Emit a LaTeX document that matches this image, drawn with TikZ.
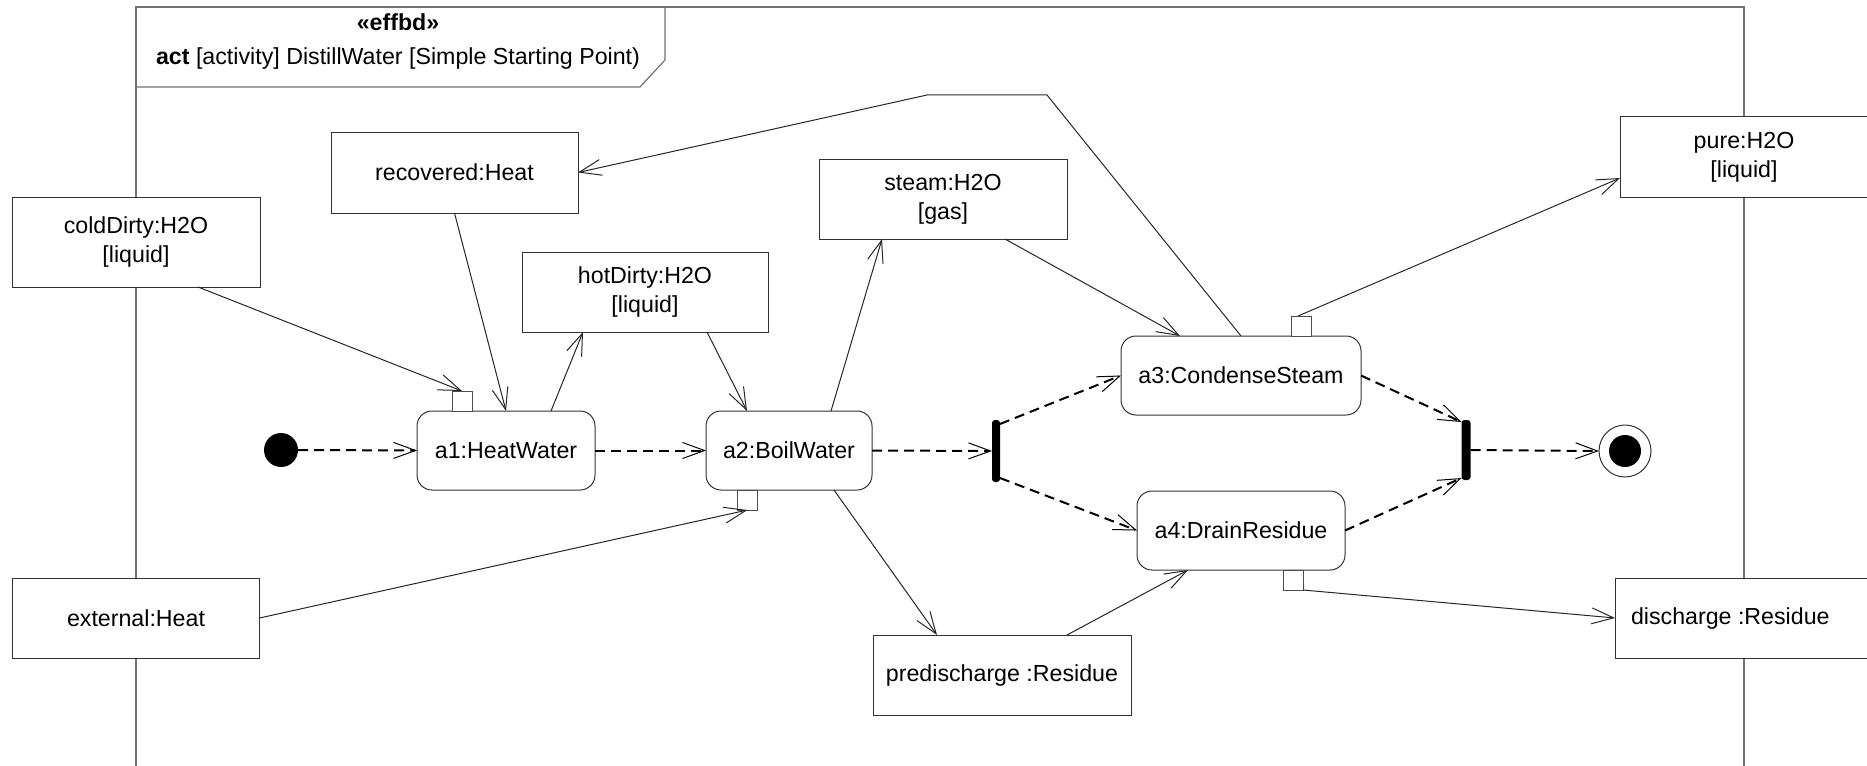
\documentclass[tikz,border=0pt]{standalone}
\usepackage{fontspec}
\setmainfont{Liberation Sans}
\usetikzlibrary{arrows.meta,calc}
\begin{document}
\begin{tikzpicture}[x=0.5pt,y=-0.5pt,
  every node/.style={inner sep=0pt, outer sep=0pt, font=\fontsize{11.6}{14.5}\selectfont},
  objbox/.style 2 args={draw=black!80, line width=0.5pt, fill=white, rectangle,
    minimum width=#1*0.5pt, minimum height=#2*0.5pt, align=center},
  actbox/.style 2 args={draw=black!80, line width=0.5pt, fill=white, rectangle,
    rounded corners=7.5pt, minimum width=#1*0.5pt, minimum height=#2*0.5pt},
  pinbox/.style={draw=black!70, line width=0.5pt, fill=white, minimum size=10pt},
  syncbar/.style 2 args={fill=black, rounded corners=1.5pt,
    minimum width=#1*0.5pt, minimum height=#2*0.5pt},
  ctrl/.style={line width=1pt, dash pattern=on 5pt off 3pt,
    -{Straight Barb[length=11pt,width=8pt,line width=0.5pt]}},
  flow/.style={line width=0.5pt, draw=black!85,
    -{Straight Barb[length=11pt,width=8pt,line width=0.5pt]}},
  frameline/.style={draw=black!55, line width=0.6pt}
]
\useasboundingbox (0,0) rectangle (1867,765);
\clip (0,0) rectangle (1867,765);

% activity frame and its heading
\draw[frameline] (136,800) -- (136,7) -- (1744,7) -- (1744,800);
\draw[frameline] (136,87) -- (640,87) -- (665,60) -- (665,7);
\node[align=center, font=\fontsize{11.6}{11.5}\selectfont] (heading) at (398,41.5)
  {\textbf{«effbd»}\\[5.5pt]\textbf{act} [activity] DistillWater [Simple Starting Point)};

% object nodes
\node[objbox={248}{90}] (coldDirty) at (136,242) {coldDirty:H2O\\{}[liquid]};
\node[objbox={247}{81}] (recovered) at (454.5,172.5) {recovered:Heat};
\node[objbox={246}{80}] (hotDirty) at (645,292) {hotDirty:H2O\\{}[liquid]};
\node[objbox={248}{80}] (steam) at (943,199) {steam:H2O\\{}[gas]};
\node[objbox={248}{80}] (pure) at (1744,157) {pure:H2O\\{}[liquid]};
\node[objbox={247}{80}] (external) at (136,618) {external:Heat};
\node[objbox={258}{80}] (predischarge) at (1002,675) {predischarge :Residue};
\node[objbox={258}{80}] (discharge) at (1744,618) {};
\node[anchor=west] (dischargeText) at ($(discharge.west)+(16,0)$) {discharge :Residue};

% actions
\node[actbox={178}{79}] (a1) at (506,450.5) {a1:HeatWater};
\node[actbox={166}{79}] (a2) at (789,450.5) {a2:BoilWater};
\node[actbox={240}{79}] (a3) at (1241,375.5) {a3:CondenseSteam};
\node[actbox={208}{79}] (a4) at (1241,530.5) {a4:DrainResidue};

% pins
\node[pinbox] (p1) at (462,401) {};
\node[pinbox] (p2) at (747.5,500) {};
\node[pinbox] (p3) at (1301,326) {};
\node[pinbox] (p4) at (1293,580) {};

% control nodes
\node[circle, fill=black, minimum size=17pt] (init) at (281,450) {};
\node[syncbar={8}{62}] (fork) at (996,451) {};
\node[syncbar={9}{60}] (join) at (1466,450) {};
\node[circle, draw=black!80, line width=0.5pt, minimum size=26pt] (final) at (1625,451) {};
\node[circle, fill=black, minimum size=16pt] (finalDot) at (final.center) {};

% control flow
\draw[ctrl] (init.east) -- (a1.west);
\draw[ctrl] (a1.east) -- (a2.west);
\draw[ctrl] (a2.east) -- (fork.west);
\draw[ctrl] ($(fork.north east)+(0,4)$) -- (a3.west);
\draw[ctrl] ($(fork.south east)+(0,-4)$) -- (a4.west);
\draw[ctrl] (a3.east) -- ($(join.north west)+(0,2)$);
\draw[ctrl] (a4.east) -- ($(join.south west)+(0,-2)$);
\draw[ctrl] (join.east) -- (final.west);

% object flow
\coordinate (bendR) at (1047,95);
\coordinate (bendL) at (927,95);
\draw[flow] ($(coldDirty.south west)+(186,0)$) -- (p1.north);
\draw[flow] (recovered.south) -- (a1.north);
\draw[flow] ($(a1.north west)+(134,0)$) -- ($(hotDirty.south west)+(61,0)$);
\draw[flow] ($(hotDirty.south west)+(185,0)$) -- ($(a2.north west)+(41,0)$);
\draw[flow] ($(a2.north west)+(125,0)$) -- ($(steam.south west)+(63,0)$);
\draw[flow] ($(steam.south west)+(186,0)$) -- ($(a3.north west)+(59,0)$);
\draw[flow] (a3.north) -- (bendR) -- (bendL) -- (recovered.east);
\draw[flow] (external.east) -- (p2.south);
\draw[flow] ($(a2.south west)+(128,0)$) -- ($(predischarge.north west)+(64,0)$);
\draw[flow] ($(predischarge.north west)+(194,0)$) -- ($(a4.south west)+(51,0)$);
\draw[flow] (p4.south east) -- (discharge.west);
\draw[flow] ($(p3.north)+(-3,0)$) -- ($(pure.south west)+(0,-19)$);
\end{tikzpicture}
\end{document}
